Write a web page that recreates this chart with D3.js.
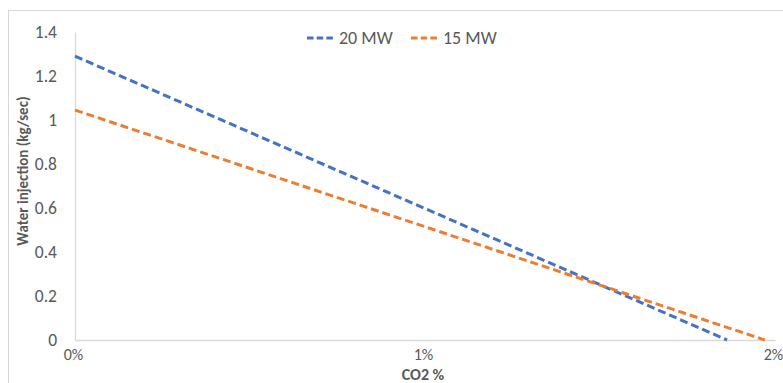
<!DOCTYPE html>
<html>
<head>
<meta charset="utf-8">
<script src="https://cdn.jsdelivr.net/npm/d3@7"></script>
<style>
  html, body { margin: 0; padding: 0; background: #fff; }
  svg { display: block; }
  text { font-family: Carlito, Calibri, Lato, "Open Sans", sans-serif; fill: #595959; }
</style>
</head>
<body>
<svg id="chart" width="783" height="383"></svg>
<script>
// Series: water injection (kg/sec) vs CO2 fraction, one line per plant size
const seriesNames = ["20 MW", "15 MW"];
const seriesColors = ["#4472C4", "#ED7D31"];
const co2_20MW = [0, 0.01863];
const water_20MW = [1.29, 0];
const co2_15MW = [0, 0.01971];
const water_15MW = [1.045, 0];
const xTicks = [0, 0.01, 0.02];
const yTicks = [0, 0.2, 0.4, 0.6, 0.8, 1, 1.2, 1.4];

const FONT = 'Carlito, Calibri, Lato, "Open Sans", sans-serif';
const svg = d3.select("#chart");

// Outer chart frame
svg.append("rect")
  .attr("x", 8.5).attr("y", 10.5)
  .attr("width", 800).attr("height", 400)
  .attr("fill", "none").attr("stroke", "#d9d9d9").attr("stroke-width", 1);

const x = d3.scaleLinear().domain([0, 0.02]).range([75, 775]);
const y = d3.scaleLinear().domain([0, 1.4]).range([340, 32]);

// Y axis
const yAxis = svg.append("g")
  .attr("transform", `translate(${x(0)},0)`)
  .call(d3.axisLeft(y).tickValues(yTicks).tickSize(0).tickPadding(18)
    .tickFormat(d => String(+d.toFixed(1))));
yAxis.select(".domain").attr("stroke", "#d9d9d9").attr("stroke-width", 1.3);
yAxis.selectAll("text").style("font-size", "17.5px").attr("fill", "#595959")
  .style("font-family", FONT);

// X axis
const xAxis = svg.append("g")
  .attr("transform", `translate(0,${y(0)})`)
  .call(d3.axisBottom(x).tickValues(xTicks).tickSize(0).tickPadding(9)
    .tickFormat(d3.format(".0%")));
xAxis.select(".domain").attr("stroke", "#d9d9d9").attr("stroke-width", 1.3);
xAxis.selectAll("text").style("font-size", "16px").attr("fill", "#595959")
  .attr("dx", "-2")
  .style("font-family", FONT);

// Lines
const data = [
  co2_20MW.map((c, i) => [c, water_20MW[i]]),
  co2_15MW.map((c, i) => [c, water_15MW[i]])
];
const line = d3.line().x(d => x(d[0])).y(d => y(d[1]));
data.forEach((pts, i) => {
  svg.append("path")
    .attr("d", line(pts))
    .attr("fill", "none")
    .attr("stroke", seriesColors[i])
    .attr("stroke-width", 3)
    .attr("stroke-dasharray", "8,4");
});

// Axis titles
svg.append("text")
  .attr("transform", "translate(28,171) rotate(-90)")
  .attr("text-anchor", "middle")
  .style("font-size", "15px").style("font-weight", "bold")
  .text("Water injection (kg/sec)");

svg.append("text")
  .attr("x", 423).attr("y", 380)
  .attr("text-anchor", "middle")
  .style("font-size", "16px").style("font-weight", "bold")
  .text("CO2 %");

// Legend
const legendItems = [{ x: 307 }, { x: 411 }];
legendItems.forEach((it, i) => {
  const g = svg.append("g").attr("transform", `translate(${it.x},38)`);
  g.append("line")
    .attr("x1", 0).attr("x2", 28).attr("y1", 0).attr("y2", 0)
    .attr("stroke", seriesColors[i]).attr("stroke-width", 3)
    .attr("stroke-dasharray", "6.5,3.2");
  g.append("text")
    .attr("x", 32).attr("y", 0).attr("dy", "0.35em")
    .style("font-size", "18px")
    .text(seriesNames[i]);
});
</script>
</body>
</html>
